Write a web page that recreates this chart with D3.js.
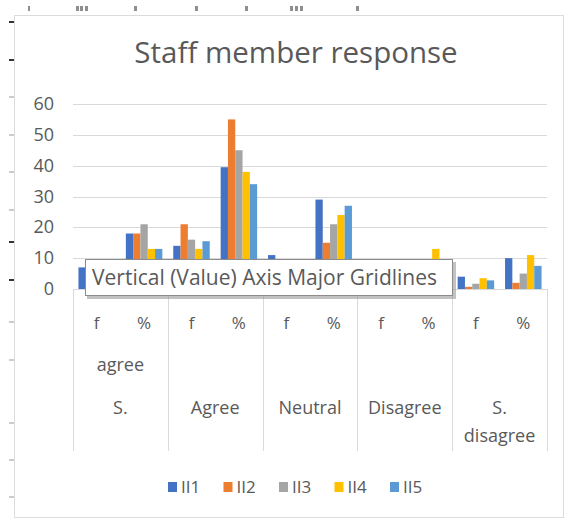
<!DOCTYPE html>
<html>
<head>
<script src="https://d3js.org/d3.v7.min.js"></script>
<title>Staff member response</title>
<style>
body { margin: 0; background: #fff; }
#root { width: 570px; height: 521px; display: block; }
text { font-family: "Open Sans", "Noto Sans", sans-serif; fill: #595959; }
</style>
</head>
<body>
<svg id="root"></svg>
<script>
// data (f values behind the tooltip are estimates)
let groups = ['S. agree', 'Agree', 'Neutral', 'Disagree', 'S. disagree']
let subLabels = ['f', '%']
let series = ['II1', 'II2', 'II3', 'II4', 'II5']
let colors = ['#4472C4', '#ED7D31', '#A5A5A5', '#FFC000', '#5B9BD5']
let yTicks = [0, 10, 20, 30, 40, 50, 60]

let II1 = [7, 18, 14, 39.5, 11, 29, 1, 3, 4, 10]
let II2 = [7, 18, 21, 55, 6, 15, 2, 5, 0.7, 2]
let II3 = [8, 21, 16, 45, 8, 21, 2, 5, 1.7, 5]
let II4 = [5, 13, 13, 38, 9, 24, 5, 13, 3.5, 11]
let II5 = [5, 13, 15.5, 34, 9, 27, 2, 5, 2.8, 7.5]
let values = [II1, II2, II3, II4, II5]

let cats = []
groups.forEach(g => subLabels.forEach(s => cats.push(g + '|' + s)))

let svg = d3.select('#root')

// screenshot frame
svg.append('rect').attr('x', 14.5).attr('y', 15.5).attr('width', 549).attr('height', 502)
	.attr('fill', 'none').attr('stroke', '#dcdcdc')
let ruler = [22, 60, 97, 135, 172, 210, 242, 280, 322, 360, 423, 460, 497]
svg.selectAll('.ruler').data(ruler).enter().append('rect').attr('class', 'ruler')
	.attr('x', 9).attr('y', d => d - 1).attr('width', 5).attr('height', 2)
	.attr('fill', (d, i) => [0, 1, 6, 7].includes(i) ? '#333' : '#ccc')
let bits = [[28, 2], [76, 3], [80, 3], [85, 3], [134, 3], [195, 3], [245, 3], [290, 3], [295, 3], [300, 3], [356, 3]]
svg.selectAll('.bit').data(bits).enter().append('rect').attr('class', 'bit')
	.attr('x', d => d[0]).attr('y', 6).attr('width', d => d[1]).attr('height', 5)
	.attr('fill', '#444').attr('opacity', 0.6)

// title
svg.append('text').attr('x', 296).attr('y', 63).attr('text-anchor', 'middle')
	.style('font-size', '29.5px').text('Staff member response')

let plotLeft = 73, plotRight = 547, plotTop = 104, plotBottom = 289

let y = d3.scaleLinear().domain([0, 60]).range([plotBottom, plotTop])
let x0 = d3.scaleBand().domain(cats).range([plotLeft, plotRight]).paddingInner(0.23).paddingOuter(0.115)
let x1 = d3.scaleBand().domain(series).range([0, x0.bandwidth()])
let step = x0.step()

// gridlines
svg.selectAll('.grid').data(yTicks).enter().append('line').attr('class', 'grid')
	.attr('x1', plotLeft).attr('x2', plotRight)
	.attr('y1', d => Math.round(y(d)) + 0.5).attr('y2', d => Math.round(y(d)) + 0.5)
	.attr('stroke', '#d9d9d9').attr('stroke-width', 1)

svg.selectAll('.ylab').data(yTicks).enter().append('text').attr('class', 'ylab')
	.attr('x', 54).attr('y', d => y(d) + 6).attr('text-anchor', 'end')
	.style('font-size', '18px').text(d => d)

// bars
series.forEach((s, si) => {
	svg.selectAll('.bar' + si).data(values[si]).enter().append('rect').attr('class', 'bar' + si)
		.attr('x', (d, i) => x0(cats[i]) + x1(s))
		.attr('y', d => y(d))
		.attr('width', x1.bandwidth())
		.attr('height', d => plotBottom - y(d))
		.attr('fill', colors[si])
})

// category axis: separators
let seps = d3.range(groups.length + 1).map(i => plotLeft + i * 2 * step)
svg.selectAll('.sep').data(seps).enter().append('line').attr('class', 'sep')
	.attr('x1', d => Math.round(d) + 0.5).attr('x2', d => Math.round(d) + 0.5)
	.attr('y1', plotBottom).attr('y2', 451)
	.attr('stroke', '#d9d9d9')

svg.selectAll('.sub').data(cats).enter().append('text').attr('class', 'sub')
	.attr('x', d => x0(d) + x0.bandwidth() / 2).attr('y', 329).attr('text-anchor', 'middle')
	.style('font-size', '17px').text(d => d.split('|')[1])

// group labels, wrapped as Excel shows them
let groupLines = [[['agree', 371], ['S.', 414]], [['Agree', 414]], [['Neutral', 414]],
	[['Disagree', 414]], [['S.', 414], ['disagree', 442]]]
groups.forEach((g, gi) => {
	let cx = plotLeft + (gi * 2 + 1) * step
	groupLines[gi].forEach(l => {
		svg.append('text').attr('x', cx).attr('y', l[1]).attr('text-anchor', 'middle')
			.style('font-size', '18px').text(l[0])
	})
})

// legend
let lx = d3.scalePoint().domain(series).range([168, 390])
let leg = svg.selectAll('.leg').data(series).enter().append('g').attr('class', 'leg')
	.attr('transform', d => 'translate(' + lx(d) + ',487)')
leg.append('rect').attr('x', 0).attr('y', -5).attr('width', 9).attr('height', 10)
	.attr('fill', (d, i) => colors[i])
leg.append('text').attr('x', 13).attr('y', 6).style('font-size', '17px').text(d => d)

// hover tooltip over the chart
let tip = svg.append('g').attr('transform', 'translate(85,259)')
tip.append('rect').attr('x', 2).attr('y', 3).attr('width', 369).attr('height', 37).attr('fill', '#999').attr('opacity', 0.6)
tip.append('rect').attr('x', 0.5).attr('y', 0.5).attr('width', 367).attr('height', 36)
	.attr('fill', '#fff').attr('stroke', '#8c8c8c')
tip.append('text').attr('x', 7).attr('y', 26).style('font-size', '21px').text('Vertical (Value) Axis Major Gridlines')
</script>
</body>
</html>
